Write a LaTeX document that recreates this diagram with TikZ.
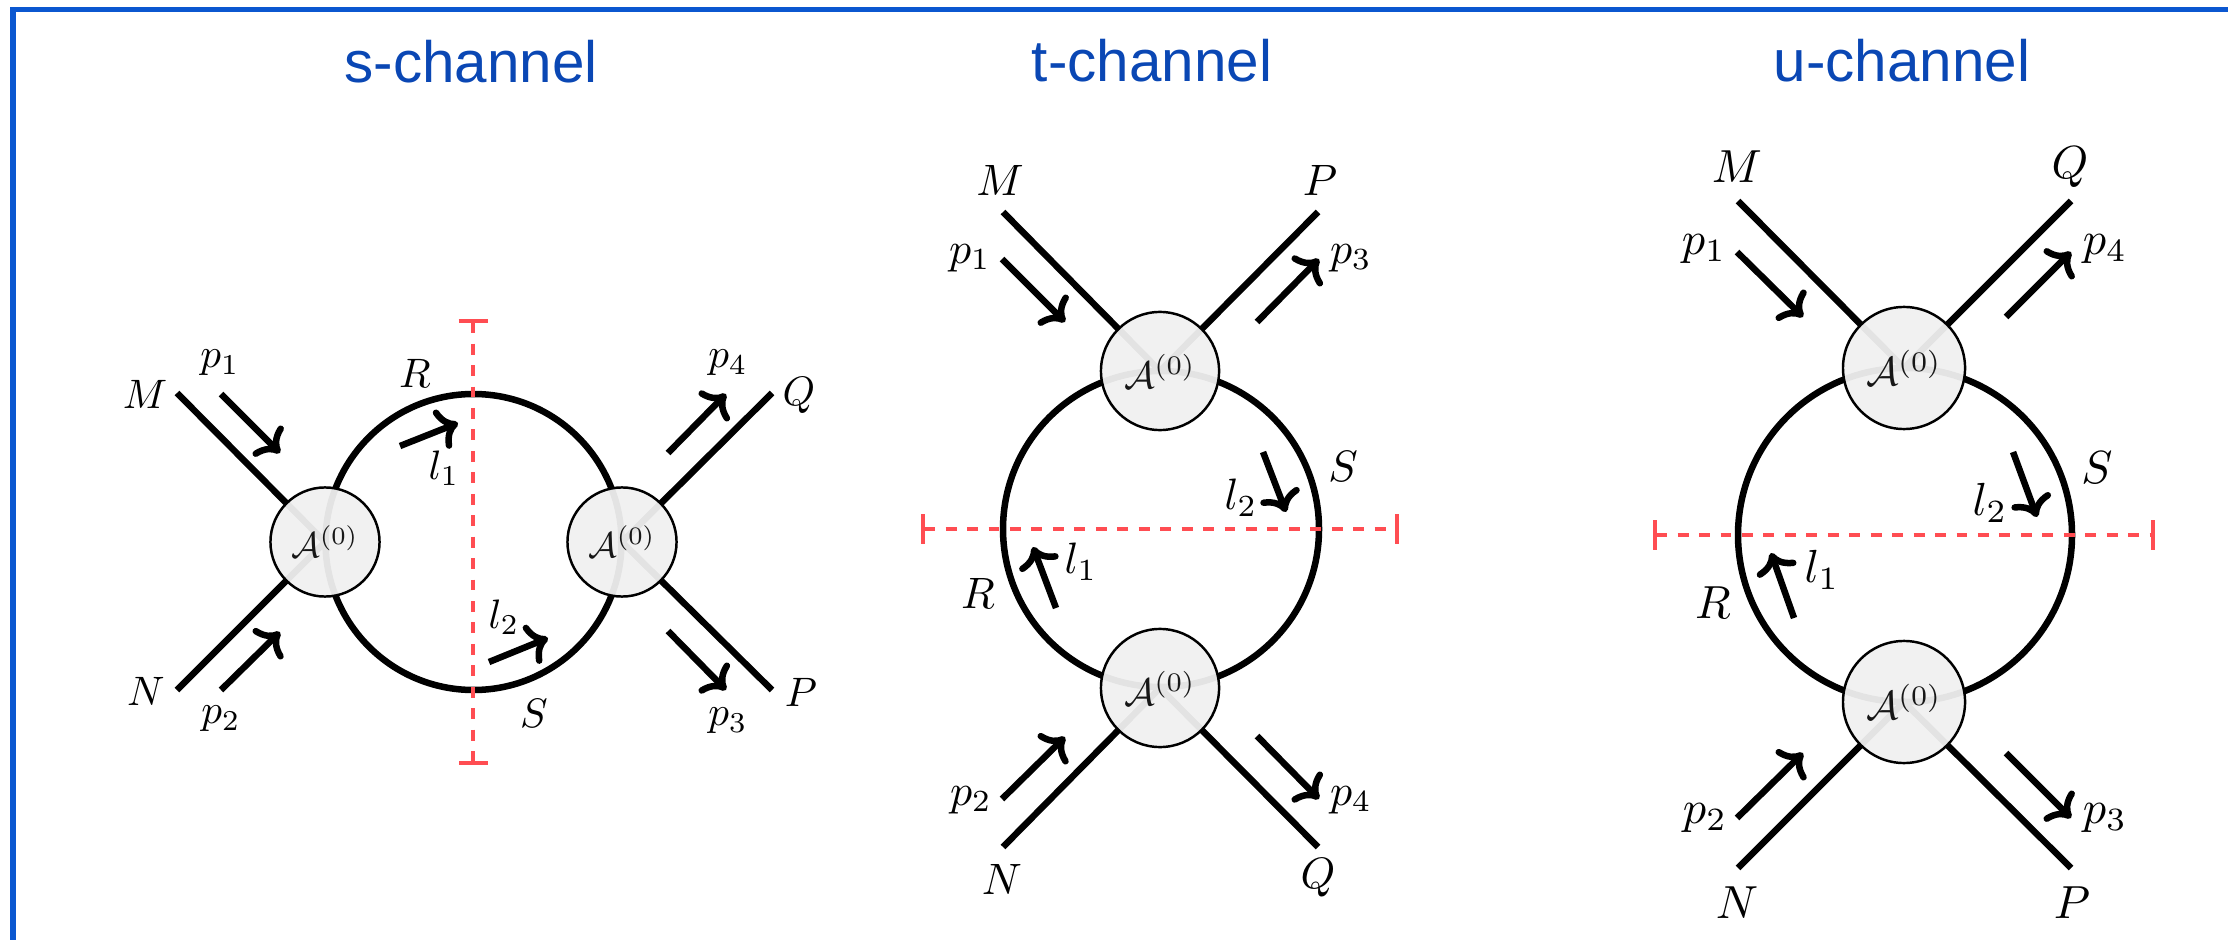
\documentclass[tikz,border=0pt]{standalone}
\usepackage{amsmath,amssymb}
\usepackage{fontspec}
\newfontfamily\titlefont{Liberation Sans}
\usepackage{tikz}
\usetikzlibrary{arrows.meta}
\definecolor{frameblue}{RGB}{11,87,208}
\definecolor{titleblue}{RGB}{10,71,180}
\definecolor{cutred}{RGB}{255,77,82}
\tikzset{
  leg/.style={line width=1.85pt},
  mom/.style={line width=1.85pt,->},
  cut/.style={cutred,line width=1pt,dash pattern=on 3.1pt off 3pt,{Bar[width=.29cm,line width=1.2pt]}-{Bar[width=.29cm,line width=1.2pt]}},
  vtx/.style={circle,draw,line width=.7pt,fill=black!6,fill opacity=.95,text opacity=.9,inner sep=0pt},
  ttl/.style={inner sep=0pt,anchor=base,text=titleblue,font=\titlefont\fontsize{16.6}{20}\selectfont},
  lblS/.style={inner sep=0pt,scale=1.17},
  lblT/.style={inner sep=0pt,scale=1.25},
  lblU/.style={inner sep=0pt,scale=1.32}
}
\begin{document}
\begin{tikzpicture}[x=0.01cm,y=-0.01cm]
\useasboundingbox (0,0) rectangle (2228,940);
\coordinate (f1) at (13,940); \coordinate (f2) at (13,9.5); \coordinate (f3) at (2228,9.5);
\draw[frameblue,line width=1.6pt] (f1)--(f2)--(f3);
\node[ttl] (titleS) at (471,83) {s-channel};
\node[ttl] (titleT) at (1152,82) {t-channel};
\node[ttl] (titleU) at (1902,82) {u-channel};
% s-channel
\coordinate (sA) at (325,542); \coordinate (sB) at (622,542); \coordinate (sO) at (473.5,542);
\coordinate (sM) at (177,393); \coordinate (sN) at (177,690);
\coordinate (sQ) at (772,393); \coordinate (sP) at (772,690);
\draw[leg] (sO) circle [radius=148];
\draw[leg] (sM)--(sA)--(sN); \draw[leg] (sQ)--(sB)--(sP);
\node[vtx,scale=1.02,minimum size=1.069cm] (sL) at (sA) {$\mathcal{A}^{(0)}$};
\node[vtx,scale=1.02,minimum size=1.069cm] (sR) at (sB) {$\mathcal{A}^{(0)}$};
\foreach \a/\b/\c/\d in {221/394/280/453,221/690/280/632,668/453/726/394,668/631/726/690,400/446/458/423,489/662/548/638}
  \draw[mom] (\a,\b)--(\c,\d);
\coordinate (sc1) at (473,319); \coordinate (sc2) at (473,765);
\draw[cut] (sc1)--(sc2);
\foreach \n/\x/\y/\t in {sm/145/394/M,sn/146/691/N,sq/799/395/Q,sp/801/692/P,sr/415/373/R,ss/534/713/S,
  sp1/220/363/p_1,sp2/221/719/p_2,sp3/728/721/p_3,sp4/728/363/p_4,sl1/444/468/l_1,sl2/504/617/l_2}
  \node[lblS] (\n) at (\x,\y) {$\t$};
% t-channel
\coordinate (tA) at (1160,371); \coordinate (tB) at (1160,688); \coordinate (tO) at (1161,529);
\coordinate (tM) at (1003,212); \coordinate (tP) at (1318,212);
\coordinate (tN) at (1003,847); \coordinate (tQ) at (1318,847);
\draw[leg] (tO) circle [radius=158];
\draw[leg] (tM)--(tA)--(tP); \draw[leg] (tN)--(tB)--(tQ);
\node[vtx,scale=1.09,minimum size=1.083cm] (tU) at (tA) {$\mathcal{A}^{(0)}$};
\node[vtx,scale=1.09,minimum size=1.083cm] (tD) at (tB) {$\mathcal{A}^{(0)}$};
\foreach \a/\b/\c/\d in {1002/259/1065/322,1257/322/1319/259,1002/799/1065/737,1257/736/1319/799,1056/608/1033/547,1263/452/1286/512}
  \draw[mom] (\a,\b)--(\c,\d);
\coordinate (tc1) at (921,529); \coordinate (tc2) at (1399,529);
\draw[cut] (tc1)--(tc2);
\foreach \n/\x/\y/\t in {tm/1000/180/M,tp/1320/180/P,tn/1002/879/N,tq/1318/878/Q,tr/978/593/R,ts/1343/466/S,
  tp1/970/258/p_1,tp2/971/800/p_2,tp3/1351/258/p_3,tp4/1351/800/p_4,tl1/1081/562/l_1,tl2/1241/498/l_2}
  \node[lblT] (\n) at (\x,\y) {$\t$};
% u-channel
\coordinate (uA) at (1904,368); \coordinate (uB) at (1904,702); \coordinate (uO) at (1905,535);
\coordinate (uM) at (1738,201); \coordinate (uQ) at (2071,201);
\coordinate (uN) at (1738,868); \coordinate (uP) at (2071,868);
\draw[leg] (uO) circle [radius=167];
\draw[leg] (uM)--(uA)--(uQ); \draw[leg] (uN)--(uB)--(uP);
\node[vtx,scale=1.15,minimum size=1.061cm] (uU) at (uA) {$\mathcal{A}^{(0)}$};
\node[vtx,scale=1.15,minimum size=1.061cm] (uD) at (uB) {$\mathcal{A}^{(0)}$};
\foreach \a/\b/\c/\d in {1737/252/1803/317,2006/317/2071/252,1737/818/1803/753,2006/753/2071/818,1794/618/1771/553,2013/452/2037/517}
  \draw[mom] (\a,\b)--(\c,\d);
\coordinate (uc1) at (1653,535); \coordinate (uc2) at (2155,535);
\draw[cut] (uc1)--(uc2);
\foreach \n/\x/\y/\t in {um/1737/167/M,uq/2070/167/Q,un/1737/903/N,up/2072/903/P,ur/1713/603/R,us/2097/468/S,
  up1/1704/249/p_1,up2/1705/818/p_2,up3/2105/818/p_3,up4/2105/249/p_4,ul1/1822/570/l_1,ul2/1990/503/l_2}
  \node[lblU] (\n) at (\x,\y) {$\t$};
\end{tikzpicture}
\end{document}
